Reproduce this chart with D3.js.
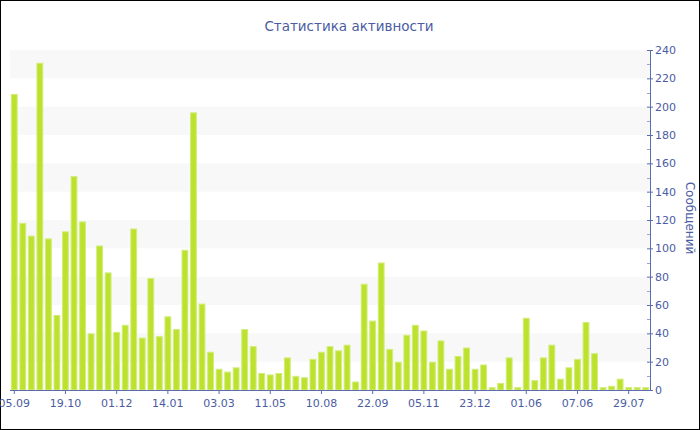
<!DOCTYPE html>
<html><head><meta charset="utf-8">
<script src="https://cdn.jsdelivr.net/npm/d3@7"></script>
<style>html,body{margin:0;padding:0;background:#fff}svg{display:block}</style>
</head><body><svg id="c" width="700" height="430"></svg>
<script>
const title = "Статистика активности";
const yTitle = "Сообщений";
const values = [209,118,109,231,107,53,112,151,119,40,102,83,41,46,114,37,79,38,52,43,99,196,61,27,15,13,16,
  43,31,12,11,12,23,10,9,22,27,31,28,32,6,75,49,90,29,20,39,46,42,20,35,15,
  24,30,15,18,2,5,23,2,51,7,23,32,8,16,22,48,26,2,3,8,2,2,2];
const tickLabels = ["05.09","19.10","01.12","14.01","03.03","11.05","10.08","22.09","05.11","23.12","01.06","07.06","29.07"];
const tickEvery = 6;
const yTicks = [0,20,40,60,80,100,120,140,160,180,200,220,240];

const svg = d3.select("#c");
const textColor = "#4a5ca3", axisColor = "#5b6db0";
const font = "DejaVu Sans, Verdana, sans-serif";

svg.append("rect").attr("x",0.5).attr("y",0.5).attr("width",699).attr("height",429)
  .attr("fill","#fff").attr("stroke","#000");

const x = d3.scaleBand().domain(d3.range(values.length)).range([10,650]).paddingInner(0.2).paddingOuter(0.1);
const y = d3.scaleLinear().domain([0,240]).range([390,50]);

// grid bands
const bands = d3.range(20,240,40);
svg.append("g").selectAll("rect").data(bands).join("rect")
  .attr("x",10).attr("width",640)
  .attr("y",d=>y(d+20)).attr("height",d=>y(d)-y(d+20))
  .attr("fill","#f8f8f8");

// bars
svg.append("g").selectAll("rect").data(values).join("rect")
  .attr("x",(d,i)=>x(i)+0.5).attr("width",x.bandwidth()-1)
  .attr("y",d=>y(d)+0.5).attr("height",d=>Math.max(0,y(0)-y(d)-0.5))
  .attr("fill","#bde22e").attr("stroke","#d2ec7a").attr("stroke-width",1);

// x axis
const tickIdx = tickLabels.map((l,i)=>i*tickEvery);
const xAxis = d3.axisBottom(x).tickValues(tickIdx).tickSize(4).tickSizeOuter(0)
  .tickFormat((d)=>tickLabels[d/tickEvery]);
const gx = svg.append("g").attr("transform","translate(0,390)").call(xAxis);
gx.select(".domain").attr("stroke",axisColor).attr("d","M10,0.5H650");
gx.selectAll(".tick line").attr("stroke",axisColor);
gx.selectAll(".tick text").attr("fill",textColor).attr("font-family",font).attr("font-size",11).attr("dy","0.95em");

// y axis on right
const yAxis = d3.axisRight(y).tickValues(yTicks).tickSize(3).tickSizeOuter(0).tickPadding(2);
const gy = svg.append("g").attr("transform","translate(650,0)").call(yAxis);
gy.select(".domain").attr("stroke",axisColor).attr("d","M0.5,390V50");
gy.selectAll(".tick line").attr("stroke",axisColor).attr("x1",-3);
gy.selectAll(".tick text").attr("fill",textColor).attr("font-family",font).attr("font-size",11);
// minor ticks
gy.append("g").selectAll("line").data(d3.range(10,240,20)).join("line")
  .attr("x1",-3).attr("x2",0).attr("y1",d=>Math.round(y(d))+0.5).attr("y2",d=>Math.round(y(d))+0.5)
  .attr("stroke","#9aa3c8");

// title
svg.append("text").attr("x",349).attr("y",31).attr("text-anchor","middle")
  .attr("fill",textColor).attr("font-family",font).attr("font-size",13.5).text(title);

// y title
svg.append("text").attr("transform","translate(686,218) rotate(90)").attr("text-anchor","middle")
  .attr("fill",textColor).attr("font-family",font).attr("font-size",12).text(yTitle);
</script></body></html>
